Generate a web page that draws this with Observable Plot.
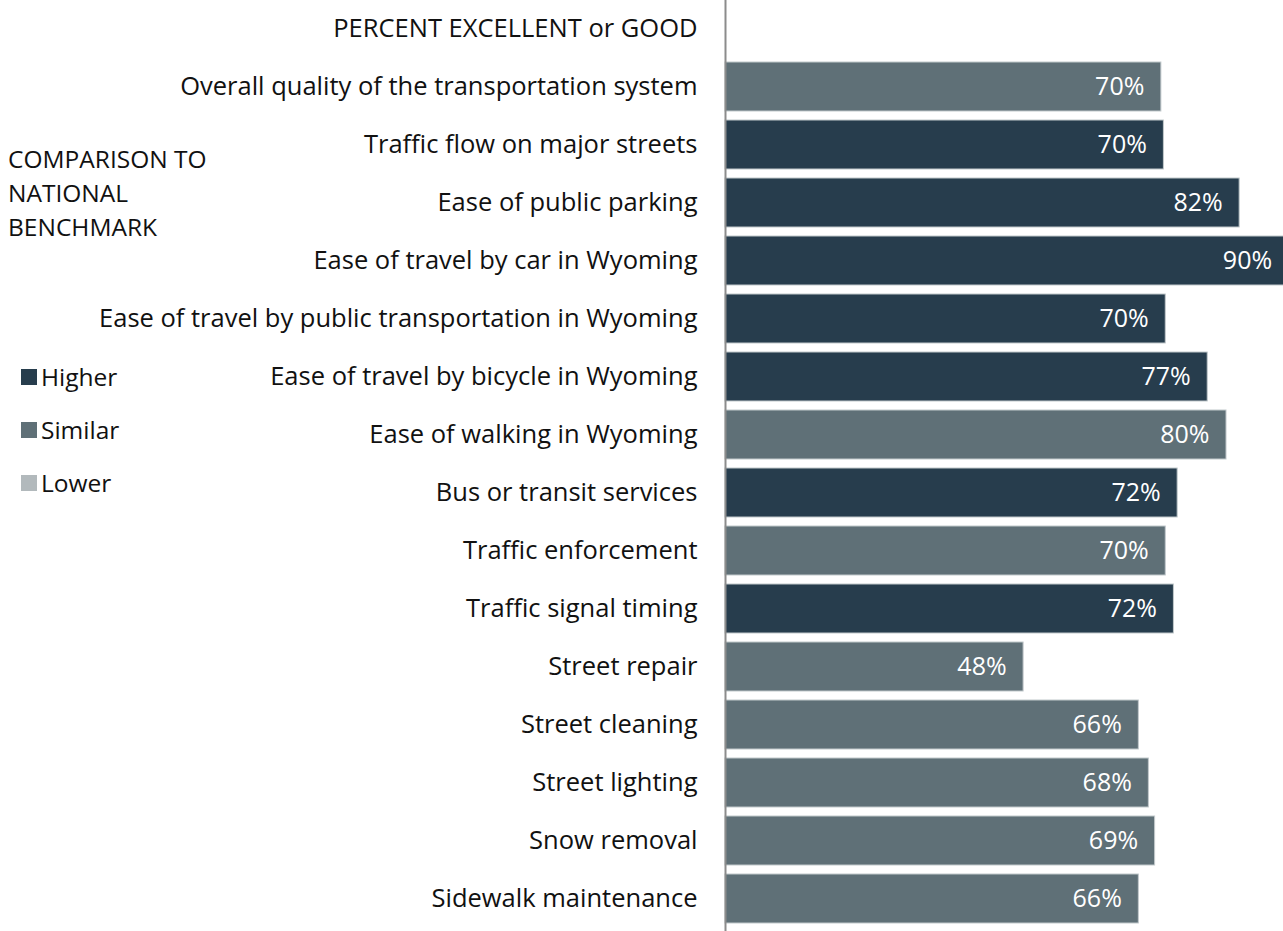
<!DOCTYPE html>
<html>
<head>
<meta charset="utf-8">
<script src="https://cdn.jsdelivr.net/npm/d3@7"></script>
<script src="https://cdn.jsdelivr.net/npm/@observablehq/plot@0.6"></script>
<style>
  html, body { margin: 0; padding: 0; background: #fff; }
  #wrap { position: relative; width: 1283px; height: 931px; overflow: hidden; font-family: "Open Sans", sans-serif; }
  #legend { position: absolute; left: 8px; top: 0; color: #111; font-size: 24.5px; }
  #legend .title { position: absolute; top: 142px; left: 0; line-height: 34px; white-space: nowrap; }
  #legend .item { position: absolute; left: 13px; white-space: nowrap; display: flex; align-items: center; line-height: 30px; }
  #legend .sw { width: 16px; height: 16px; margin-right: 4px; display: inline-block; }
</style>
</head>
<body>
<div id="wrap"></div>
<script>
const header = "PERCENT EXCELLENT or GOOD";
const categories = [
  "Overall quality of the transportation system",
  "Traffic flow on major streets",
  "Ease of public parking",
  "Ease of travel by car in Wyoming",
  "Ease of travel by public transportation in Wyoming",
  "Ease of travel by bicycle in Wyoming",
  "Ease of walking in Wyoming",
  "Bus or transit services",
  "Traffic enforcement",
  "Traffic signal timing",
  "Street repair",
  "Street cleaning",
  "Street lighting",
  "Snow removal",
  "Sidewalk maintenance"
];
const values = [69.6, 70.0, 82.1, 90.0, 70.3, 77.0, 80.0, 72.2, 70.3, 71.6, 47.6, 66.0, 67.6, 68.6, 66.0];
const comparison = ["Similar", "Higher", "Higher", "Higher", "Higher", "Higher", "Similar", "Higher", "Similar", "Higher", "Similar", "Similar", "Similar", "Similar", "Similar"];
const legendTitle = ["COMPARISON TO", "NATIONAL", "BENCHMARK"];
const legendLevels = ["Higher", "Similar", "Lower"];
const legendColors = ["#273d4d", "#5f7077", "#b2b9bc"];

const data = categories.map((c, i) => ({category: c, value: values[i], comparison: comparison[i]}));

const chart = Plot.plot({
  width: 1283,
  height: 931,
  marginLeft: 725,
  marginRight: 0,
  marginTop: 0,
  marginBottom: 0,
  style: {fontFamily: "Open Sans, sans-serif", fontSize: "25.5px", color: "#111", background: "transparent"},
  x: {domain: [0, 89.1], axis: null},
  y: {domain: [header, ...categories], range: [-9, 937], padding: 0.147, label: null, tickSize: 0, tickPadding: 28},
  color: {domain: legendLevels, range: legendColors},
  marks: [
    Plot.barX(data, {x: "value", y: "category", fill: "comparison", stroke: "#c2c9cc", strokeWidth: 1}),
    Plot.text(data, {x: "value", y: "category", text: d => Math.round(d.value) + "%", textAnchor: "end", dx: -17, fill: "white", fontSize: 25}),
    Plot.ruleX([0], {stroke: "#8c8c8c", strokeWidth: 2})
  ]
});

const wrap = document.getElementById("wrap");
wrap.appendChild(chart);

const legend = document.createElement("div");
legend.id = "legend";
const t = document.createElement("div");
t.className = "title";
t.innerHTML = legendTitle.join("<br>");
legend.appendChild(t);
const tops = [377, 430, 483];
legendLevels.forEach((lv, i) => {
  const it = document.createElement("div");
  it.className = "item";
  it.style.top = (tops[i] - 15) + "px";
  const sw = document.createElement("span");
  sw.className = "sw";
  sw.style.background = legendColors[i];
  it.appendChild(sw);
  it.appendChild(document.createTextNode(lv));
  legend.appendChild(it);
});
wrap.appendChild(legend);
</script>
</body>
</html>
